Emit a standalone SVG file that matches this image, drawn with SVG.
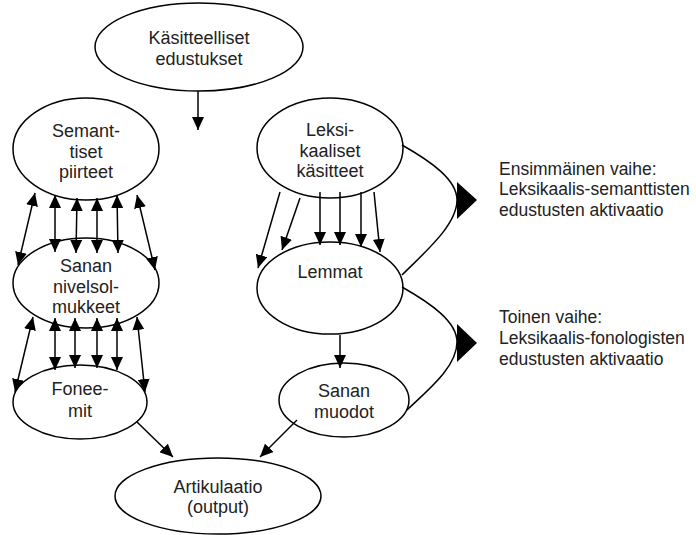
<svg xmlns="http://www.w3.org/2000/svg" width="696" height="535" viewBox="0 0 696 535">
<style>
  .node ellipse { fill: #fff; stroke: #000; stroke-width: 1.5; }
  .node text { font-family: "Liberation Sans", Arial, sans-serif; font-size: 18px; fill: #222; text-anchor: middle; }
  .lbl text { font-family: "Liberation Sans", Arial, sans-serif; font-size: 17.5px; fill: #222; }
  .conn line { stroke: #000; stroke-width: 1.5; }
  .one { marker-end: url(#ah); }
  .two { marker-start: url(#ah); marker-end: url(#ah); }
  .curve { fill: none; stroke: #000; stroke-width: 1.5; }
</style>
<defs>
  <marker id="ah" markerUnits="userSpaceOnUse" markerWidth="13" markerHeight="12" refX="13" refY="6" orient="auto-start-reverse">
    <path d="M0,0 L13,6 L0,12 z" fill="#000"/>
  </marker>
</defs>
<rect width="696" height="535" fill="#fff"/>
<g id="kasitteelliset" class="node">
  <ellipse cx="199" cy="47" rx="104" ry="44"/>
  <text x="199" y="44">Käsitteelliset</text>
  <text x="199" y="65">edustukset</text>
</g>
<g id="semantiset" class="node">
  <ellipse cx="86" cy="149" rx="73" ry="51"/>
  <text x="86" y="137">Semant-</text>
  <text x="86" y="158">tiset</text>
  <text x="86" y="178">piirteet</text>
</g>
<g id="sanan-nivelsolmukkeet" class="node">
  <ellipse cx="86" cy="283" rx="73" ry="45"/>
  <text x="86" y="272">Sanan</text>
  <text x="86" y="293">nivelsol-</text>
  <text x="86" y="313">mukkeet</text>
</g>
<g id="foneemit" class="node">
  <ellipse cx="80" cy="402" rx="67" ry="37"/>
  <text x="80" y="395">Fonee-</text>
  <text x="80" y="417">mit</text>
</g>
<g id="leksikaaliset" class="node">
  <ellipse cx="330" cy="148" rx="73" ry="50"/>
  <text x="330" y="136">Leksi-</text>
  <text x="330" y="157">kaaliset</text>
  <text x="330" y="177">käsitteet</text>
</g>
<g id="lemmat" class="node">
  <ellipse cx="330" cy="288" rx="73" ry="46"/>
  <text x="330" y="278">Lemmat</text>
</g>
<g id="sanan-muodot" class="node">
  <ellipse cx="344" cy="400" rx="65" ry="37"/>
  <text x="344" y="397">Sanan</text>
  <text x="344" y="418">muodot</text>
</g>
<g id="artikulaatio" class="node">
  <ellipse cx="218" cy="496" rx="103" ry="38"/>
  <text x="218" y="493">Artikulaatio</text>
  <text x="218" y="513">(output)</text>
</g>
<g id="connectors" class="conn">
  <line class="one" x1="198" y1="91" x2="198" y2="130"/>
  <line class="two" x1="35" y1="193" x2="18" y2="265"/>
  <line class="two" x1="55" y1="195" x2="55" y2="252"/>
  <line class="two" x1="77" y1="198" x2="76" y2="253"/>
  <line class="two" x1="97" y1="198" x2="97" y2="253"/>
  <line class="two" x1="117" y1="195" x2="118" y2="253"/>
  <line class="two" x1="137" y1="195" x2="155" y2="270"/>
  <line class="two" x1="33" y1="317" x2="15" y2="392"/>
  <line class="two" x1="55" y1="318" x2="55" y2="370"/>
  <line class="two" x1="75" y1="318" x2="75" y2="368"/>
  <line class="two" x1="97" y1="318" x2="97" y2="368"/>
  <line class="two" x1="117" y1="318" x2="117" y2="370"/>
  <line class="two" x1="137" y1="317" x2="145" y2="392"/>
  <line class="one" x1="280" y1="192" x2="258" y2="268"/>
  <line class="one" x1="300" y1="198" x2="282" y2="250"/>
  <line class="one" x1="320" y1="192" x2="320" y2="245"/>
  <line class="one" x1="340" y1="192" x2="340" y2="245"/>
  <line class="one" x1="361" y1="192" x2="361" y2="247"/>
  <line class="one" x1="374" y1="192" x2="380" y2="252"/>
  <line class="one" x1="340" y1="335" x2="340" y2="368"/>
  <line class="one" x1="297" y1="420" x2="260" y2="457"/>
  <line class="one" x1="137" y1="422" x2="173" y2="457"/>
  <path class="curve" d="M402,145 C432,162 457,180 457,200 C457,225 425,252 402,275"/>
  <polygon points="457,182 477,200 457,219" fill="#000"/>
  <path class="curve" d="M402,287 C432,304 457,322 457,342 C457,367 428,390 407,410"/>
  <polygon points="457,324 477,343 457,362" fill="#000"/>
</g>
<g id="vaihe1" class="lbl">
  <text x="499" y="175">Ensimmäinen vaihe:</text>
  <text x="499" y="195">Leksikaalis-semanttisten</text>
  <text x="499" y="216">edustusten aktivaatio</text>
</g>
<g id="vaihe2" class="lbl">
  <text x="499" y="323">Toinen vaihe:</text>
  <text x="499" y="344">Leksikaalis-fonologisten</text>
  <text x="499" y="365">edustusten aktivaatio</text>
</g>
</svg>
